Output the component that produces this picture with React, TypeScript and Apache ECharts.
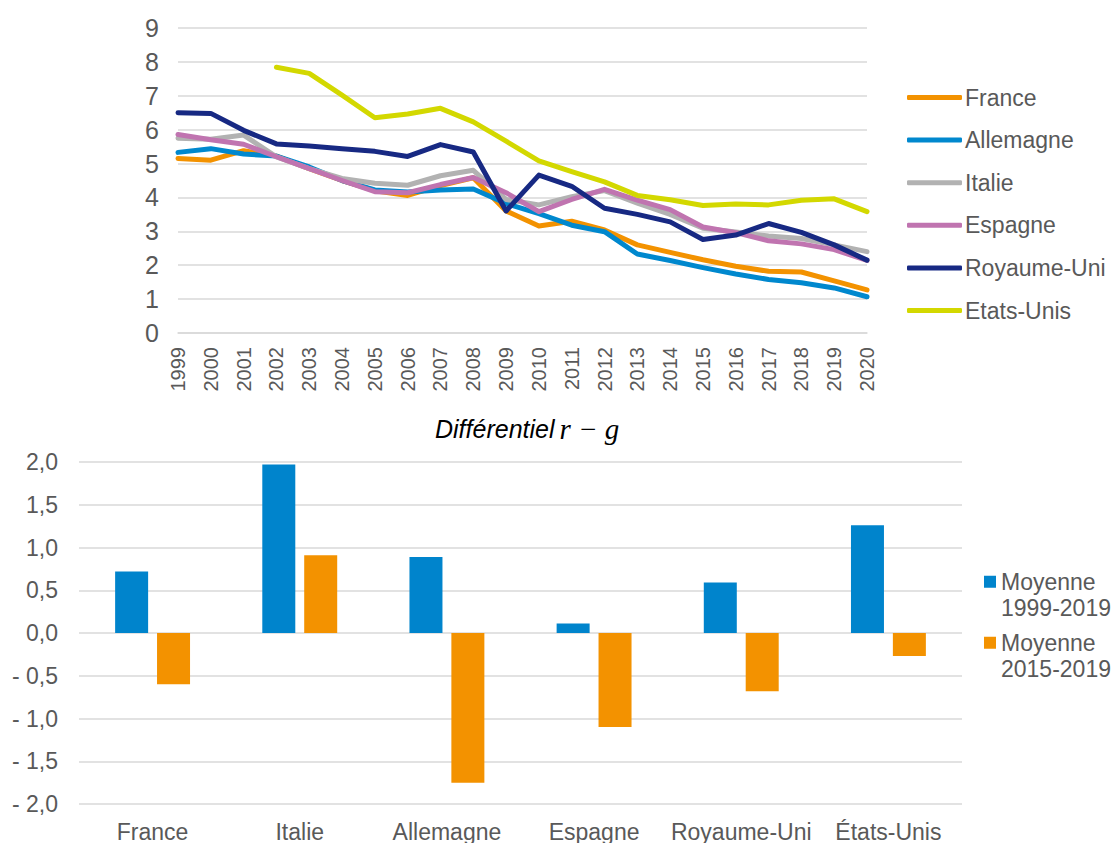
import React, { useEffect, useRef } from "react";
import * as echarts from "echarts";

const years = ["1999","2000","2001","2002","2003","2004","2005","2006","2007","2008","2009","2010","2011","2012","2013","2014","2015","2016","2017","2018","2019","2020"];
const france = [5.15,5.1,5.38,5.22,4.85,4.5,4.2,4.06,4.35,4.58,3.6,3.16,3.3,3.04,2.6,2.38,2.16,1.97,1.82,1.8,1.54,1.27];
const allemagne = [5.33,5.44,5.28,5.22,4.9,4.5,4.22,4.16,4.22,4.25,3.82,3.52,3.18,2.99,2.33,2.14,1.93,1.74,1.58,1.48,1.33,1.07];
const italie = [5.75,5.72,5.84,5.2,4.85,4.56,4.42,4.36,4.64,4.8,3.94,3.78,4.02,4.2,3.83,3.5,3.09,2.98,2.86,2.79,2.6,2.4];
const espagne = [5.86,5.7,5.57,5.2,4.85,4.5,4.17,4.14,4.38,4.59,4.14,3.58,3.94,4.24,3.92,3.64,3.13,2.96,2.72,2.63,2.46,2.14];
const royaumeUni = [6.5,6.48,5.98,5.58,5.52,5.44,5.36,5.21,5.56,5.34,3.6,4.66,4.33,3.68,3.5,3.28,2.76,2.89,3.23,2.97,2.6,2.15];
const etatsUnis = [null,null,null,7.84,7.66,7.02,6.35,6.46,6.63,6.23,5.66,5.08,4.76,4.46,4.06,3.93,3.76,3.81,3.78,3.92,3.96,3.58];

const pays = ["France","Italie","Allemagne","Espagne","Royaume-Uni","États-Unis"];
const moy1999_2019 = [0.72,1.97,0.89,0.11,0.59,1.26];
const moy2015_2019 = [-0.6,0.91,-1.75,-1.1,-0.68,-0.27];

const FONT = "'Liberation Sans', Arial, sans-serif";
const LABEL = "#595959";
const GRID = "#D9D9D9";

export default function App() {
  const ref = useRef<HTMLDivElement>(null);
  useEffect(() => {
    if (!ref.current) return;
    const chart = echarts.init(ref.current, undefined, { renderer: "svg" });
    const lineSeries = (name: string, data: (number | null)[], color: string) => ({
      type: "line",
      name,
      data,
      xAxisIndex: 0,
      yAxisIndex: 0,
      showSymbol: false,
      symbol: "none",
      lineStyle: { width: 5, color, cap: "round", join: "round" },
      itemStyle: { color },
      connectNulls: false,
    });
    const fmt = (v: number) => (v < 0 ? "- " : "") + Math.abs(v).toFixed(1).replace(".", ",");
    const barLegend = (name: string, top: number) => ({
      left: 984,
      top,
      padding: 0,
      itemWidth: 12,
      itemHeight: 12,
      itemGap: 4,
      icon: "rect",
      formatter: (n: string) => "\n" + n.replace(" ", "\n"),
      textStyle: { fontFamily: FONT, fontSize: 23, color: LABEL, lineHeight: 26.5 },
      data: [name],
    });
    chart.setOption({
      animation: false,
      textStyle: { fontFamily: FONT },
      title: {
        left: 435,
        top: 414,
        padding: 0,
        text: "{a|Différentiel} {b|r − g}",
        textStyle: {
          fontWeight: "normal",
          rich: {
            a: { fontFamily: FONT, fontStyle: "italic", fontWeight: "normal", fontSize: 25, color: "#000" },
            b: { fontFamily: "'Liberation Serif', serif", fontStyle: "italic", fontWeight: "normal", fontSize: 29, color: "#000" },
          },
        },
      },
      legend: [
        {
          orient: "vertical",
          left: 907,
          top: 86,
          padding: 0,
          itemWidth: 55,
          itemHeight: 5,
          itemGap: 19.6,
          icon: "roundRect",
          textStyle: { fontFamily: FONT, fontSize: 23, color: LABEL, lineHeight: 22, padding: [0, 0, 0, -2] },
          data: ["France", "Allemagne", "Italie", "Espagne", "Royaume-Uni", "Etats-Unis"],
        },
        barLegend("Moyenne 1999-2019", 542),
        barLegend("Moyenne 2015-2019", 603),
      ],
      grid: [
        { left: 178, top: 28, width: 689, height: 305, containLabel: false },
        { left: 79, top: 462, width: 883, height: 342, containLabel: false },
      ],
      xAxis: [
        {
          type: "category",
          gridIndex: 0,
          data: years,
          boundaryGap: false,
          axisLine: { show: true, lineStyle: { color: GRID, width: 1.5 } },
          axisTick: { show: false },
          axisLabel: { interval: 0, rotate: 90, fontSize: 20, color: LABEL, fontFamily: FONT, margin: 14 },
          splitLine: { show: false },
        },
        {
          type: "category",
          gridIndex: 1,
          data: pays,
          axisLine: { show: false, onZero: false },
          axisTick: { show: false },
          axisLabel: { interval: 0, fontSize: 23, color: LABEL, fontFamily: FONT, margin: 16 },
          splitLine: { show: false },
        },
      ],
      yAxis: [
        {
          type: "value",
          gridIndex: 0,
          min: 0,
          max: 9,
          interval: 1,
          axisLine: { show: false },
          axisTick: { show: false },
          axisLabel: { fontSize: 25, color: LABEL, fontFamily: FONT, margin: 19 },
          splitLine: { lineStyle: { color: GRID, width: 1.5 } },
        },
        {
          type: "value",
          gridIndex: 1,
          min: -2,
          max: 2,
          interval: 0.5,
          axisLine: { show: false },
          axisTick: { show: false },
          axisLabel: { fontSize: 23, color: LABEL, fontFamily: FONT, margin: 21, formatter: fmt },
          splitLine: { lineStyle: { color: GRID, width: 1.5 } },
        },
      ],
      series: [
        lineSeries("France", france, "#F39200"),
        lineSeries("Allemagne", allemagne, "#0088CE"),
        lineSeries("Italie", italie, "#B2B2B2"),
        lineSeries("Espagne", espagne, "#C074B0"),
        lineSeries("Royaume-Uni", royaumeUni, "#172983"),
        lineSeries("Etats-Unis", etatsUnis, "#D3D800"),
        {
          type: "bar",
          name: "Moyenne 1999-2019",
          data: moy1999_2019,
          xAxisIndex: 1,
          yAxisIndex: 1,
          barWidth: 33,
          barGap: "27%",
          itemStyle: { color: "#0084CC" },
        },
        {
          type: "bar",
          name: "Moyenne 2015-2019",
          data: moy2015_2019,
          xAxisIndex: 1,
          yAxisIndex: 1,
          barWidth: 33,
          barGap: "27%",
          itemStyle: { color: "#F39200" },
        },
      ],
    });
    return () => chart.dispose();
  }, []);
  return (
    <div
      ref={ref}
      style={{ position: "fixed", left: 0, top: 0, width: 1117, height: 843, background: "#fff" }}
    />
  );
}
